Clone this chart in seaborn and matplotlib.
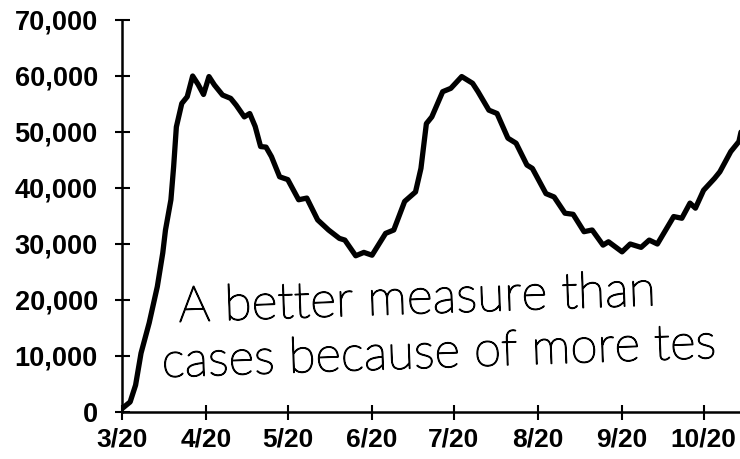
import pandas as pd
import matplotlib.pyplot as plt
import matplotlib.patheffects as pe
import numpy as np
import seaborn as sns

# days after 1 March 2020, and the curve value
day_offsets = [0, 3, 5, 7, 10, 13, 15, 16, 18, 19, 20, 22, 24, 26, 28, 30, 32, 34, 37, 40,
               42, 45, 47, 49, 51, 53, 55, 58, 61, 65, 68, 72, 76, 80, 82, 86, 89, 92, 97, 100,
               104, 108, 110, 112, 114, 118, 121, 125, 129, 131, 135, 138, 142, 145, 149, 151, 156, 159, 163, 166,
               170, 173, 177, 179, 184, 187, 191, 194, 197, 203, 206, 209, 211, 214, 218, 220, 224, 227, 228]
values = [600, 1800, 4800, 10500, 15900, 22400, 28400, 32500, 37900, 43800, 50900, 55100, 56300, 60000, 58500, 56700, 59900, 58400, 56600, 56000,
          54800, 52700, 53300, 51000, 47400, 47300, 45600, 42000, 41500, 37900, 38200, 34300, 32500, 31000, 30700, 27900, 28500, 28000, 31900, 32500,
          37600, 39300, 43500, 51500, 52700, 57200, 57800, 59900, 58700, 57200, 53900, 53300, 48900, 48000, 44100, 43500, 39000, 38400, 35500, 35300,
          32200, 32500, 29800, 30400, 28600, 30000, 29400, 30700, 30000, 34900, 34600, 37300, 36400, 39600, 41700, 42900, 46500, 48300, 50500]

month_ticks = ['2020-03-01', '2020-04-01', '2020-05-01', '2020-06-01',
               '2020-07-01', '2020-08-01', '2020-09-01', '2020-10-01']
month_labels = ['3/20', '4/20', '5/20', '6/20', '7/20', '8/20', '9/20', '10/20']
y_ticks = [0, 10000, 20000, 30000, 40000, 50000, 60000, 70000]

# handwritten note, as far as it is visible in the picture
note_line1 = 'A better measure than'
note_line2 = 'cases because of more tes'

start = pd.Timestamp('2020-03-01')
df = pd.DataFrame({'date': start + pd.to_timedelta(day_offsets, unit='D'), 'value': values})

sns.set_style('ticks')
plt.rcParams['font.family'] = ['Liberation Sans', 'DejaVu Sans']
plt.rcParams['text.color'] = 'black'
plt.rcParams['xtick.color'] = 'black'
plt.rcParams['ytick.color'] = 'black'

fig = plt.figure(figsize=(7.4, 4.59), dpi=100)
ax = fig.add_axes([122 / 740, 1 - 412 / 459, 1 - 122 / 740, (412 - 20) / 459])

sns.lineplot(data=df, x='date', y='value', ax=ax, color='black', linewidth=3.8)

ax.set_xlim(start, start + pd.Timedelta(days=227.4))
ax.set_ylim(0, 70000)
ax.set_xticks(pd.to_datetime(month_ticks))
ax.set_xticklabels(month_labels)
ax.set_yticks(y_ticks)
ax.set_yticklabels([f'{v:,}' for v in y_ticks])
ax.set_xlabel('')
ax.set_ylabel('')

ax.tick_params(axis='both', direction='inout', length=10.8, width=1.5, color='black', labelcolor='black')
ax.tick_params(axis='y', pad=12.0, labelsize=19.5)
ax.tick_params(axis='x', pad=6, labelsize=19)
for lab in ax.get_xticklabels() + ax.get_yticklabels():
    lab.set_fontweight('bold')

sns.despine(ax=ax)
for side in ['left', 'bottom']:
    ax.spines[side].set_linewidth(1.8)
    ax.spines[side].set_color('black')
ax.spines['left'].set_clip_on(False)

pen = [pe.withStroke(linewidth=1.0, foreground='black')]
ax.text(0.09, 0.23, note_line1, transform=ax.transAxes, fontsize=36, family=['Lato', 'DejaVu Sans'],
        fontweight='light', color='black', rotation=2, ha='left', va='baseline', path_effects=pen)
ax.text(0.063, 0.089, note_line2, transform=ax.transAxes, fontsize=35.5, family=['Lato', 'DejaVu Sans'],
        fontweight='light', color='black', rotation=2, ha='left', va='baseline', path_effects=pen)

fig.savefig('out.png', dpi=100)
